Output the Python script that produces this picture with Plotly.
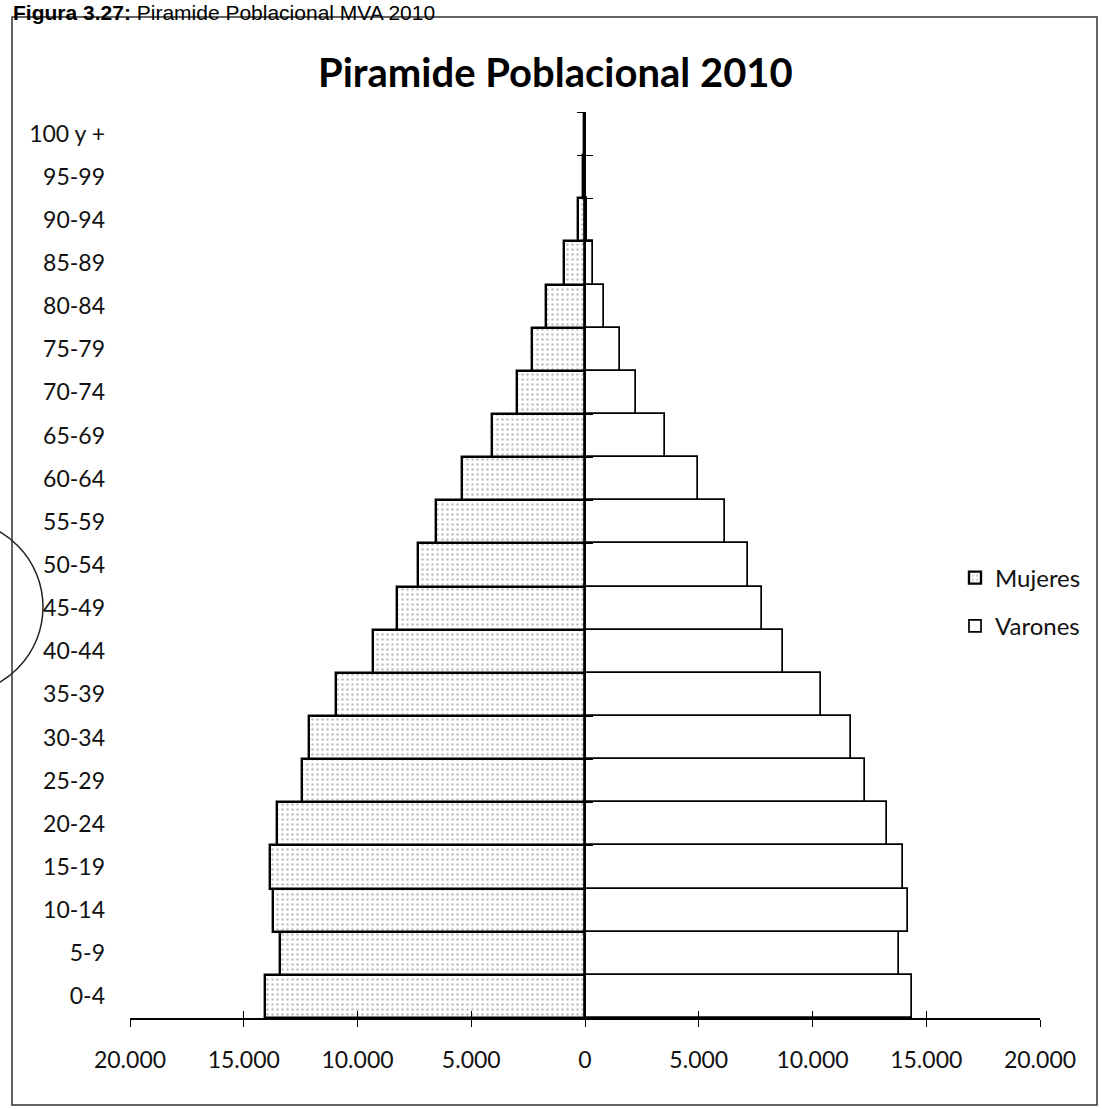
import plotly.graph_objects as go

# Age groups, bottom to top
AGE_GROUPS = ["0-4", "5-9", "10-14", "15-19", "20-24", "25-29", "30-34", "35-39",
              "40-44", "45-49", "50-54", "55-59", "60-64", "65-69", "70-74",
              "75-79", "80-84", "85-89", "90-94", "95-99", "100 y +"]

MUJERES = [14070, 13410, 13710, 13850, 13540, 12440, 12130, 10950, 9320, 8260,
           7340, 6550, 5400, 4090, 3000, 2340, 1710, 940, 300, 100, 30]
VARONES = [14370, 13820, 14200, 13980, 13270, 12310, 11690, 10370, 8700, 7780,
           7160, 6150, 4970, 3500, 2230, 1540, 850, 370, 80, 40, 20]

X_TICKS = [-20000, -15000, -10000, -5000, 0, 5000, 10000, 15000, 20000]
X_TICK_LABELS = ["20.000", "15.000", "10.000", "5.000", "0",
                 "5.000", "10.000", "15.000", "20.000"]

W, H = 1102, 1109
PL, PR, PT, PB = 130, 1040, 112, 1018


def px(x):
    return (x - PL) / (PR - PL)


def py(y):
    return (PB - y) / (PB - PT)


FONT = "Lato"

fig = go.Figure()

fig.add_trace(go.Bar(
    y=AGE_GROUPS, x=[-v for v in MUJERES], orientation="h", name="Mujeres",
    legendgroup="m",
    marker=dict(color="white", line=dict(color="black", width=2.4),
                pattern=dict(shape=".", fgcolor="#808080", bgcolor="white",
                             size=5, solidity=0.2)),
))
fig.add_trace(go.Bar(
    y=AGE_GROUPS, x=VARONES, orientation="h", name="Varones",
    legendgroup="v",
    marker=dict(color="white", line=dict(color="black", width=1.7)),
))

# helper traces so the overlay axes (centre axis and crossing ticks) get drawn
for xa, ya in [("x", "y2"), ("x", "y3"), ("x2", "y")]:
    fig.add_trace(go.Scatter(x=[0], y=[0] if ya != "y" else [AGE_GROUPS[0]],
                             xaxis=xa, yaxis=ya, mode="markers",
                             marker=dict(opacity=0), showlegend=False,
                             hoverinfo="skip"))

n = len(AGE_GROUPS)
bounds = [i - 0.5 for i in range(n + 1)]

fig.update_layout(
    width=W, height=H,
    margin=dict(l=PL, r=W - PR, t=PT, b=H - PB, pad=0),
    paper_bgcolor="white", plot_bgcolor="white",
    barmode="relative", bargap=0,
    showlegend=True,
    legend=dict(x=px(955), y=py(602), xanchor="left", yanchor="middle",
                font=dict(family=FONT, size=24, color="#111"),
                traceorder="grouped", tracegroupgap=14,
                bgcolor="rgba(0,0,0,0)", itemwidth=30),
    xaxis=dict(range=[-20000, 20000], tickvals=X_TICKS, ticktext=X_TICK_LABELS,
               showgrid=False, zeroline=False, showline=True, linecolor="black",
               linewidth=1.5, ticks="outside", ticklen=7, tickwidth=1.2,
               tickcolor="black", ticklabelstandoff=14,
               tickfont=dict(family=FONT, size=23, color="#111")),
    xaxis2=dict(range=[-20000, 20000], overlaying="x", anchor="y",
                tickvals=X_TICKS, ticks="inside", ticklen=7, tickwidth=1.2,
                tickcolor="black", showticklabels=False, showgrid=False,
                zeroline=False, showline=False),
    yaxis=dict(type="category", categoryorder="array", categoryarray=AGE_GROUPS,
               range=[-0.5, n - 0.5], showgrid=False, zeroline=False,
               showline=False, ticks="", ticklabelstandoff=24,
               tickfont=dict(family=FONT, size=23, color="#111")),
    yaxis2=dict(overlaying="y", anchor="free", position=0.5,
                range=[-0.5, n - 0.5], tickvals=bounds, ticks="outside",
                ticklen=7, tickwidth=1.2, tickcolor="black",
                showticklabels=False, showgrid=False, zeroline=False,
                showline=True, linecolor="black", linewidth=1.5),
    yaxis3=dict(overlaying="y", anchor="free", position=0.5,
                range=[-0.5, n - 0.5], tickvals=bounds, ticks="inside",
                ticklen=7, tickwidth=1.2, tickcolor="black",
                showticklabels=False, showgrid=False, zeroline=False,
                showline=False),
)

# Chart title
fig.add_annotation(text="<b>Piramide Poblacional 2010</b>", xref="paper", yref="paper",
                   x=px(555), y=py(72), xanchor="center", yanchor="middle",
                   showarrow=False, font=dict(family=FONT, size=40, color="black"))

# Figure caption above the frame
fig.add_annotation(text="<b>Figura 3.27:</b> Piramide Poblacional MVA 2010",
                   xref="paper", yref="paper", x=px(12), y=py(0),
                   xanchor="left", yanchor="top", showarrow=False, borderpad=0,
                   font=dict(family="Liberation Sans", size=21, color="black"))

# Outer frame around the chart
fig.add_shape(type="rect", xref="paper", yref="paper",
              x0=px(12), x1=px(1097), y0=py(1105), y1=py(17),
              line=dict(color="#333", width=1.5), layer="below")

# Stamp ring on the left margin
fig.add_shape(type="circle", xref="paper", yref="paper",
              x0=px(-131), x1=px(43), y0=py(694), y1=py(520),
              line=dict(color="#222", width=1.5), layer="above")

fig.write_html("out.html")
